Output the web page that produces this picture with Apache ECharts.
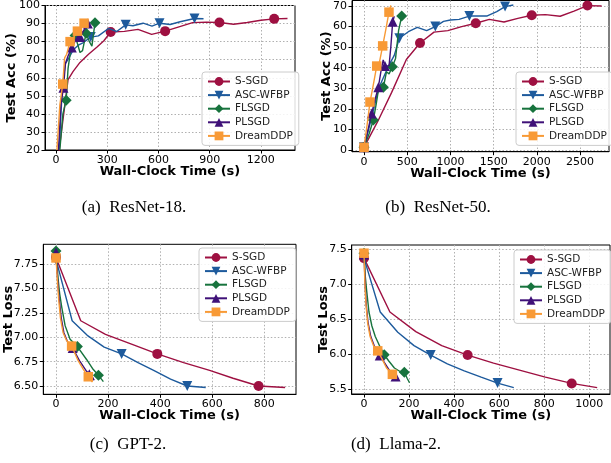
<!DOCTYPE html>
<html><head><meta charset="utf-8">
<script src="https://cdn.jsdelivr.net/npm/echarts@6/dist/echarts.min.js"></script>
<style>html,body{margin:0;padding:0;background:#fff}#c{width:611px;height:463px}</style>
</head><body><div id="c"></div>
<script>
// ---------- data ----------
const seriesNames = ['S-SGD', 'ASC-WFBP', 'FLSGD', 'PLSGD', 'DreamDDP'];

// (a) ResNet-18: [time (s), test acc (%)]
const r18_ssgd = [[10,14],[70,59],[100,63.5],[140,68.5],[190,73],[240,77],[280,80.5],[320,85.3],[400,85.7],[480,86.8],[560,84],[639,85.8],[720,88.2],[800,90.5],[880,90.8],[957,90.6],[1040,89.6],[1120,90.6],[1200,91.8],[1278,92.6],[1356,92.8]];
const r18_ssgd_marks = [7,11,15,19];
const r18_asc = [[18,20],[35,52],[53,67.5],[75,71],[101,75.5],[130,78],[160,79.5],[203,82.5],[248,83.2],[307,87.3],[355,85.6],[408,89.3],[450,88.8],[510,90.2],[562,88.6],[606,90.2],[668,89.5],[727,91],[811,92.8],[864,92.7]];
const r18_asc_marks = [7,11,15,18];
const r18_fl = [[22,20],[40,40],[59,47.6],[70,65],[85,75],[100,81],[111,83.4],[125,79],[140,74],[155,75],[176,84.7],[195,80],[210,77.5],[228,90.5]];
const r18_fl_marks = [2,6,10,13];
const r18_pl = [[14,20],[28,45],[43,54.5],[55,68],[70,72],[92,76.7],[110,80],[125,82.8],[141,82.5],[160,86],[186,90]];
const r18_pl_marks = [2,5,8,10];
const r18_dream = [[5,20],[22,45],[39,56.5],[50,71],[62,73],[82,80],[100,82],[125,85.8],[142,87],[164,90.2]];
const r18_dream_marks = [2,5,7,9];

// (b) ResNet-50
const r50_ssgd = [[0,1.3],[160,14],[320,28],[490,44],[648,52],[810,57.3],[970,58],[1130,60],[1293,61.6],[1450,63.5],[1620,62.2],[1780,64],[1941,65.5],[2100,65.8],[2270,65],[2430,67.5],[2585,70.2],[2750,70]];
const r50_ssgd_marks = [0,4,8,12,16];
const r50_asc = [[0,1.3],[90,16],[170,30],[280,40.5],[350,46],[409,54.3],[513,57.5],[617,59.6],[725,58],[825,60],[920,62.5],[1000,63.2],[1100,63.5],[1219,65.1],[1420,65.1],[1536,67.3],[1632,69.7],[1728,70.5]];
const r50_asc_marks = [0,5,9,13,16];
const r50_fl = [[0,1.3],[60,8],[108,14.6],[140,22],[170,30],[224,30.5],[260,38],[290,37],[328,40.5],[365,44.5],[385,44.5],[400,58],[436,65.1]];
const r50_fl_marks = [0,2,5,8,12];
const r50_pl = [[0,1.3],[89,17.8],[130,25],[166,30.5],[195,38],[222,43.8],[243,40.8],[290,41],[310,50],[332,62.4],[350,65]];
const r50_pl_marks = [0,1,3,6,9];
const r50_dream = [[0,1.3],[35,12],[69,23.3],[100,30],[147,40.8],[180,43],[216,50.6],[250,58],[289,67],[310,70.3]];
const r50_dream_marks = [0,2,4,6,8];

// (c) GPT-2: [time (s), test loss]
const gpt_ssgd = [[0,7.82],[95,7.17],[190,7.03],[290,6.93],[389,6.83],[490,6.74],[590,6.66],[680,6.58],[778,6.50],[880,6.485]];
const gpt_ssgd_marks = [0,4,8];
const gpt_asc = [[0,7.80],[62,7.17],[120,7.02],[185,6.90],[252,6.83],[315,6.74],[375,6.66],[440,6.57],[504,6.50],[575,6.485]];
const gpt_asc_marks = [0,4,8];
const gpt_fl = [[0,7.885],[8,7.6],[14,7.45],[22,7.31],[35,7.12],[54,6.98],[82,6.905],[118,6.77],[140,6.68],[163,6.61],[182,6.545]];
const gpt_fl_marks = [0,6,9];
const gpt_pl = [[0,7.87],[6,7.6],[12,7.4],[20,7.2],[30,7.05],[45,6.95],[64,6.89],[90,6.76],[115,6.66],[128,6.62],[147,6.56]];
const gpt_pl_marks = [0,6,9];
const gpt_dream = [[0,7.815],[5,7.6],[10,7.4],[17,7.2],[27,7.05],[40,6.97],[60,6.91],[85,6.76],[105,6.67],[124,6.595],[140,6.54]];
const gpt_dream_marks = [0,6,9];

// (d) Llama-2
const llama_ssgd = [[0,7.37],[115,6.60],[230,6.32],[345,6.12],[460,5.985],[575,5.87],[690,5.77],[805,5.67],[922,5.58],[1035,5.52]];
const llama_ssgd_marks = [0,4,8];
const llama_asc = [[0,7.37],[72,6.60],[150,6.31],[222,6.12],[296,5.985],[370,5.86],[445,5.76],[520,5.67],[593,5.585],[665,5.52]];
const llama_asc_marks = [0,4,8];
const llama_fl = [[0,7.44],[6,7.1],[12,6.9],[22,6.6],[35,6.4],[50,6.25],[70,6.11],[90,5.99],[110,5.9],[135,5.8],[160,5.75],[179,5.74],[192,5.65],[202,5.59]];
const llama_fl_marks = [0,7,11];
const llama_pl = [[0,7.42],[5,7.0],[10,6.7],[18,6.45],[30,6.25],[45,6.12],[70,5.98],[90,5.88],[110,5.78],[130,5.70],[140,5.68],[152,5.64]];
const llama_pl_marks = [0,6,10];
const llama_dream = [[0,7.44],[4,7.0],[9,6.7],[16,6.45],[27,6.25],[42,6.12],[61,6.045],[80,5.93],[100,5.80],[126,5.71],[140,5.66]];
const llama_dream_marks = [0,6,9];

// tick labels
const r18_xTicks = [0,300,600,900,1200];
const r18_yTicks = [20,30,40,50,60,70,80,90,100];
const r50_xTicks = [0,500,1000,1500,2000,2500];
const r50_yTicks = [0,10,20,30,40,50,60,70];
const gpt_xTicks = [0,200,400,600,800];
const gpt_yTicks = [6.50,6.75,7.00,7.25,7.50,7.75];
const llama_xTicks = [0,200,400,600,800,1000];
const llama_yTicks = [5.5,6.0,6.5,7.0,7.5];

const xName = 'Wall-Clock Time (s)';
const captions = ['(a)  ResNet-18.', '(b)  ResNet-50.', '(c)  GPT-2.', '(d)  Llama-2.'];

// ---------- styles / layout ----------
const colors = ['#9e1041', '#1d5a9c', '#17733d', '#3f1178', '#f89a36'];
const symbols = ['circle', 'triangle', 'diamond', 'triangle', 'rect'];
const symRot = [0, 180, 0, 0, 0];
const symSize = [10, 10, 11, 10, 9.5];

const panels = [
  { grid:{left:45, top:5, width:250, height:145}, x:[-65,1400], y:[20,100], xt:r18_xTicks, yt:r18_yTicks, yDec:0, yName:'Test Acc (%)', yGap:26.5,
    data:[r18_ssgd,r18_asc,r18_fl,r18_pl,r18_dream], marks:[r18_ssgd_marks,r18_asc_marks,r18_fl_marks,r18_pl_marks,r18_dream_marks],
    legend:{left:202, top:72}, cap:[134,208] },
  { grid:{left:352, top:0.5, width:257, height:151.2}, x:[-139,2835], y:[-0.83,72.67], xt:r50_xTicks, yt:r50_yTicks, yDec:0, yName:'Test Acc (%)', yGap:19,
    data:[r50_ssgd,r50_asc,r50_fl,r50_pl,r50_dream], marks:[r50_ssgd_marks,r50_asc_marks,r50_fl_marks,r50_pl_marks,r50_dream_marks],
    legend:{left:516, top:72}, cap:[438,208] },
  { grid:{left:43.3, top:244.3, width:252.7, height:150}, x:[-48.8,921.7], y:[6.415,7.955], xt:gpt_xTicks, yt:gpt_yTicks, yDec:2, yName:'Test Loss', yGap:28.5,
    data:[gpt_ssgd,gpt_asc,gpt_fl,gpt_pl,gpt_dream], marks:[gpt_ssgd_marks,gpt_asc_marks,gpt_fl_marks,gpt_pl_marks,gpt_dream_marks],
    legend:{left:199, top:248}, cap:[128,445] },
  { grid:{left:351.7, top:245, width:258.3, height:149}, x:[-54.6,1092], y:[5.429,7.557], xt:llama_xTicks, yt:llama_yTicks, yDec:1, yName:'Test Loss', yGap:22,
    data:[llama_ssgd,llama_asc,llama_fl,llama_pl,llama_dream], marks:[llama_ssgd_marks,llama_asc_marks,llama_fl_marks,llama_pl_marks,llama_dream_marks],
    legend:{left:514, top:250}, cap:[396,445] }
];

const tickFont = {fontFamily:'DejaVu Sans', fontSize:11, color:'#000'};
const nameFont = {fontFamily:'DejaVu Sans', fontSize:13, fontWeight:'bold', color:'#000'};

const grids = [], xAxes = [], yAxes = [], series = [], legends = [], graphics = [];
panels.forEach((p, i) => {
  grids.push(Object.assign({show:true, borderColor:'#000', borderWidth:1, backgroundColor:'#fff'}, p.grid));
  xAxes.push({
    type:'value', gridIndex:i, min:p.x[0], max:p.x[1],
    name:xName, nameLocation:'middle', nameGap:15, nameMoveOverlap:false, nameTextStyle:nameFont,
    axisLine:{show:true, onZero:false, lineStyle:{color:'#000', width:1}},
    axisTick:{show:true, length:3.5, customValues:p.xt, lineStyle:{color:'#000'}},
    axisLabel:Object.assign({customValues:p.xt, margin:4.5, formatter:v=>String(v)}, tickFont),
    splitLine:{show:true, lineStyle:{type:[1.5,2], color:'#b0b0b0', width:1}}
  });
  yAxes.push({
    type:'value', gridIndex:i, min:p.y[0], max:p.y[1],
    name:p.yName, nameLocation:'middle', nameGap:p.yGap, nameMoveOverlap:false, nameRotate:90, nameTextStyle:nameFont,
    axisLine:{show:true, onZero:false, lineStyle:{color:'#000', width:1}},
    axisTick:{show:true, length:3.5, customValues:p.yt, lineStyle:{color:'#000'}},
    axisLabel:Object.assign({customValues:p.yt, margin:5, formatter:v=>Number(v).toFixed(p.yDec)}, tickFont),
    splitLine:{show:true, lineStyle:{type:[1.5,2], color:'#b0b0b0', width:1}}
  });
  p.data.forEach((d, k) => {
    const m = p.marks[k];
    series.push({
      type:'line', name:seriesNames[k], xAxisIndex:i, yAxisIndex:i,
      data:d.map((pt, j) => m.indexOf(j) >= 0 ? {value:pt} : {value:pt, symbol:'none'}),
      symbol:symbols[k], symbolRotate:symRot[k], symbolSize:symSize[k], showAllSymbol:true,
      lineStyle:{color:colors[k], width:1.4}, itemStyle:{color:colors[k], borderWidth:0},
      clip:true, animation:false, emphasis:{disabled:true}, z:2+k
    });
  });
  legends.push({
    data:seriesNames, orient:'vertical', left:p.legend.left, top:p.legend.top,
    itemWidth:22, itemHeight:11, itemGap:2.6, padding:[4,6,4,5],
    backgroundColor:'rgba(255,255,255,0.85)', borderColor:'#cccccc', borderWidth:1, borderRadius:3,
    textStyle:{fontFamily:'DejaVu Sans', fontSize:10.5, color:'#222'}, selectedMode:false, z:10
  });
  graphics.push({
    type:'text', x:p.cap[0], y:p.cap[1],
    style:{text:captions[i], font:'17px "Liberation Serif"', fill:'#000', align:'center', verticalAlign:'middle'}
  });
});

const chart = echarts.init(document.getElementById('c'), null, {renderer:'canvas'});
chart.setOption({
  animation:false, backgroundColor:'#fff',
  grid:grids, xAxis:xAxes, yAxis:yAxes, series:series, legend:legends, graphic:graphics
});
</script></body></html>
